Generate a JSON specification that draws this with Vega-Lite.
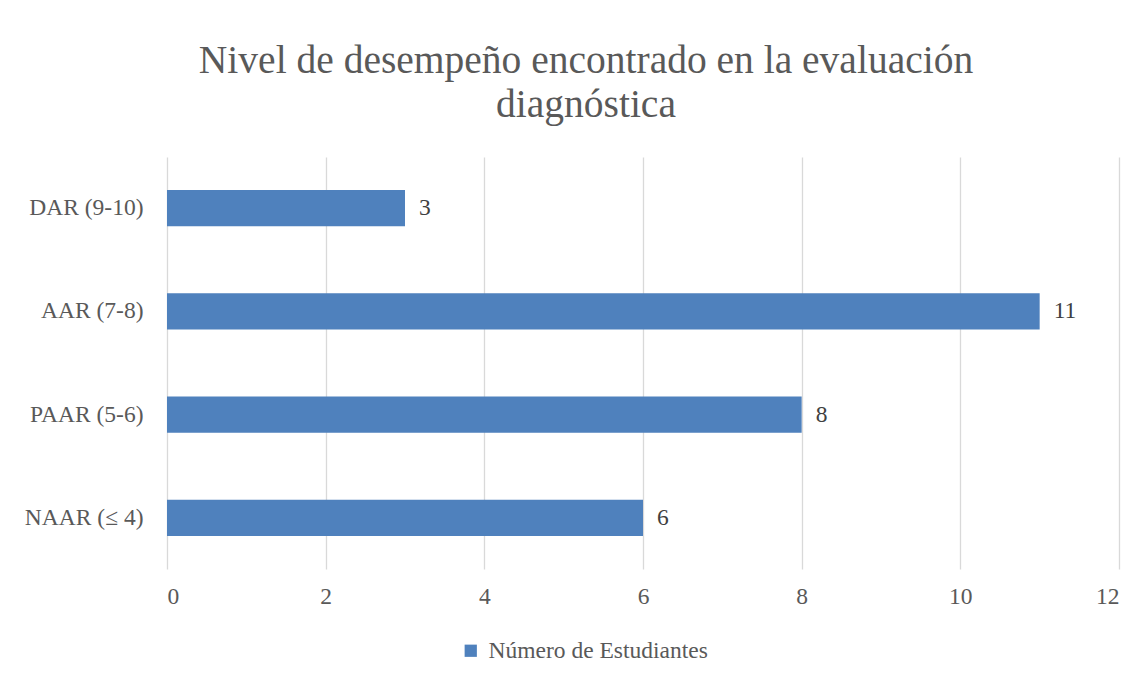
{
  "$schema": "https://vega.github.io/schema/vega-lite/v6.json",
  "autosize": "none",
  "width": 952,
  "height": 412,
  "padding": {"left": 167, "top": 157, "right": 28, "bottom": 109},
  "background": "white",
  "title": {
    "text": ["Nivel de desempeño encontrado en la evaluación", "diagnóstica"],
    "font": "Liberation Serif",
    "fontSize": 39.5,
    "fontWeight": "normal",
    "color": "#595959",
    "lineHeight": 44,
    "anchor": "middle",
    "dx": -57,
    "offset": 32
  },
  "data": {
    "values": [
      {"nivel": "DAR (9-10)", "serie": "Número de Estudiantes", "valor": 3},
      {"nivel": "AAR (7-8)", "serie": "Número de Estudiantes", "valor": 11},
      {"nivel": "PAAR (5-6)", "serie": "Número de Estudiantes", "valor": 8},
      {"nivel": "NAAR (≤ 4)", "serie": "Número de Estudiantes", "valor": 6}
    ]
  },
  "encoding": {
    "y": {
      "field": "nivel",
      "type": "nominal",
      "sort": null,
      "scale": {"paddingInner": 0.65, "paddingOuter": 0.32},
      "axis": {
        "title": null,
        "domain": false,
        "ticks": false,
        "labelFont": "Liberation Serif",
        "labelFontSize": 23.5,
        "labelColor": "#595959",
        "labelPadding": 24,
        "labelLimit": 0
      }
    },
    "x": {
      "field": "valor",
      "type": "quantitative",
      "scale": {"domain": [0, 12]},
      "axis": {
        "title": null,
        "values": [0, 2, 4, 6, 8, 10, 12],
        "domain": false,
        "ticks": false,
        "grid": true,
        "gridColor": "#d9d9d9",
        "gridWidth": 1.3,
        "labelFont": "Liberation Serif",
        "labelFontSize": 23.5,
        "labelColor": "#595959",
        "labelPadding": 15
      }
    }
  },
  "layer": [
    {
      "mark": {"type": "bar"},
      "encoding": {
        "color": {
          "field": "serie",
          "type": "nominal",
          "scale": {"range": ["#4f81bd"]},
          "legend": {
            "title": null,
            "orient": "none",
            "legendX": 292,
            "legendY": 482,
            "symbolType": "square",
            "symbolSize": 150,
            "symbolStrokeWidth": 0,
            "labelFont": "Liberation Serif",
            "labelFontSize": 23.5,
            "labelColor": "#595959",
            "labelOffset": 6,
            "labelLimit": 0
          }
        }
      }
    },
    {
      "mark": {
        "type": "text",
        "align": "left",
        "baseline": "middle",
        "dx": 14,
        "font": "Liberation Serif",
        "fontSize": 23.5,
        "color": "#404040"
      },
      "encoding": {"text": {"field": "valor", "type": "quantitative"}}
    }
  ],
  "config": {"view": {"stroke": null}}
}
